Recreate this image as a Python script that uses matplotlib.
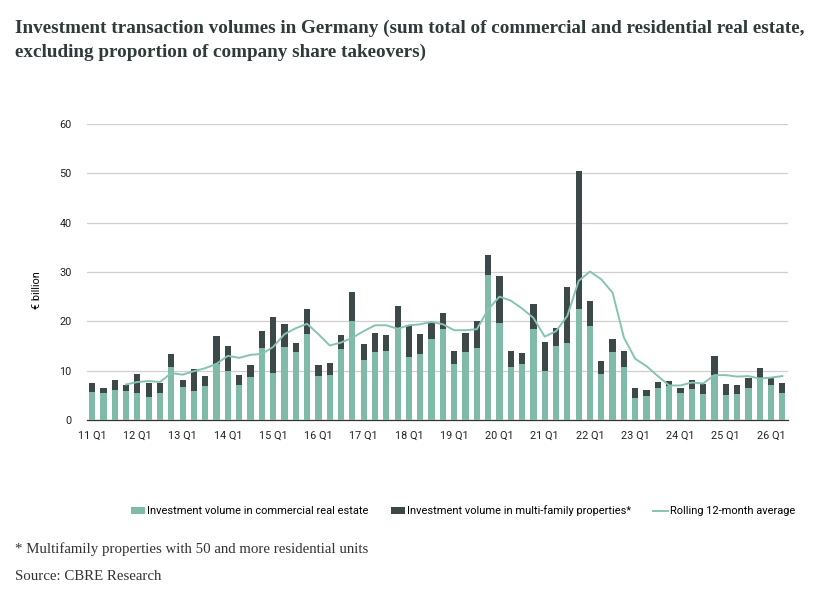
import matplotlib
matplotlib.use('Agg')
import matplotlib.pyplot as plt
import numpy as np

# quarterly values, 11 Q1 onwards (EUR billion)
commercial = [5.6, 5.4, 6.1, 5.8, 5.5, 4.6, 5.4, 10.8, 6.7, 5.8, 6.8, 11.4, 9.9, 7.0, 8.8,
              14.5, 9.5, 14.7, 13.8, 17.4, 8.9, 9.2, 14.3, 20.1, 12.2, 13.7, 13.9, 18.7,
              12.7, 13.3, 16.4, 18.4, 11.3, 13.7, 14.5, 29.3, 19.6, 10.7, 11.4, 18.5,
              9.9, 14.9, 15.7, 22.4, 19.1, 9.3, 13.7, 10.8, 4.5, 4.9, 6.4, 6.9, 5.5,
              6.2, 5.3, 9.1, 5.0, 5.3, 6.4, 8.6, 7.0, 5.5]
total = [7.4, 6.5, 8.1, 7.0, 9.3, 7.4, 7.6, 13.4, 8.2, 10.4, 8.9, 17.0, 15.1, 9.1, 11.1,
         18.0, 20.9, 19.5, 15.7, 22.4, 11.1, 11.5, 17.2, 25.9, 15.5, 17.6, 17.2, 23.2,
         19.1, 17.4, 19.7, 21.6, 14.0, 17.6, 20.0, 33.4, 29.1, 14.0, 13.6, 23.6,
         15.9, 18.6, 26.9, 50.5, 24.2, 12.0, 16.4, 13.9, 6.4, 6.0, 7.8, 8.0, 6.4,
         8.2, 7.2, 13.0, 7.2, 7.0, 8.5, 10.5, 8.5, 7.6]
rolling = [np.nan, np.nan, np.nan, 7.2, 7.7, 7.9, 7.7, 9.5, 9.2, 9.9, 10.5, 11.4, 13.0,
           12.6, 13.2, 13.4, 14.8, 17.4, 18.6, 19.5, 17.4, 15.1, 15.7, 16.7, 18.0, 19.2,
           19.2, 18.5, 19.2, 19.4, 19.9, 19.4, 18.2, 18.2, 18.4, 22.4, 25.0, 24.2, 22.6,
           20.7, 16.9, 18.0, 21.1, 28.2, 30.1, 28.5, 25.8, 16.7, 12.4, 10.9, 8.9, 7.0,
           7.0, 7.6, 7.4, 9.1, 9.1, 8.8, 8.9, 8.4, 8.6, 8.9]
multifamily = [t - c for t, c in zip(total, commercial)]
labels = [f"{y} Q1" for y in range(11, 27)]

green = '#80bba9'
dark = '#3d4849'
line_col = '#86c3b2'

plt.rcParams['font.family'] = ['Roboto', 'DejaVu Sans']

fig = plt.figure(figsize=(8.4, 5.95), dpi=100)
ax = fig.add_axes([87/840, 1-420/595, (788-87)/840, (420-124)/595])

x = np.arange(len(total))
b1 = ax.bar(x, commercial, width=0.55, color=green, label='Investment volume in commercial real estate', zorder=3)
b2 = ax.bar(x, multifamily, bottom=commercial, width=0.55, color=dark,
            label='Investment volume in multi-family properties*', zorder=3)
l1, = ax.plot(x, rolling, color=line_col, lw=1.4, label='Rolling 12-month average', zorder=4)

ax.set_ylim(0, 60)
ax.set_xlim(-0.45, 61.5)
ax.set_yticks(range(0, 61, 10))
ax.set_xticks(x[::4])
ax.set_xticklabels(labels)
ax.tick_params(length=0, labelsize=7.8, colors='#222222')
ax.tick_params(axis='y', pad=11)
ax.tick_params(axis='x', pad=8)
ax.grid(axis='y', color='#cfcfcf', lw=0.9, zorder=0)
for s in ['top', 'right', 'left']:
    ax.spines[s].set_visible(False)
ax.spines['bottom'].set_color('#333333')
ax.spines['bottom'].set_linewidth(0.9)

fig.text(37/840, 1-290/595, '€ billion', rotation=90, ha='center', va='center', fontsize=7.8)

fig.legend([b1, b2, l1], [b1.get_label(), b2.get_label(), l1.get_label()],
           loc='center', bbox_to_anchor=(463/840, 1-511/595), ncol=3, frameon=False,
           fontsize=7.9, handlelength=1.3, handleheight=0.5, handletextpad=0.2, columnspacing=2.0)

title_kw = dict(fontfamily='Liberation Serif', fontweight='bold', fontsize=13.8, color='#2f3a3a', va='center')
fig.text(15/840, 1-28/595, 'Investment transaction volumes in Germany (sum total of commercial and residential real estate,',
         **title_kw)
fig.text(15/840, 1-52/595, 'excluding proportion of company share takeovers)', **title_kw)
fig.text(15/840, 1-549/595, '* Multifamily properties with 50 and more residential units',
         fontfamily='Liberation Serif', fontsize=10.7, color='#333333', va='center')
fig.text(15/840, 1-576/595, 'Source: CBRE Research',
         fontfamily='Liberation Serif', fontsize=10.7, color='#333333', va='center')

fig.savefig('out.png', dpi=100)
